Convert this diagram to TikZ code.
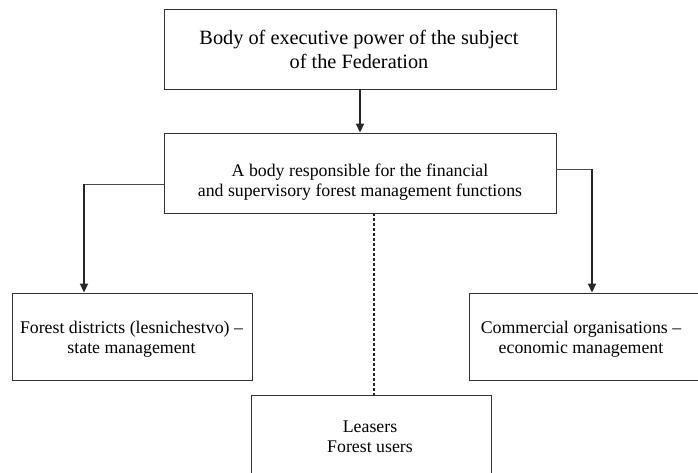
\documentclass[tikz,border=0pt]{standalone}
\usepackage{fontspec}
\setmainfont{Liberation Serif}
\usetikzlibrary{arrows.meta}
\newcommand{\twolines}[2]{\begin{tabular}[t]{@{}c@{}}#1\\#2\end{tabular}}
\begin{document}
\begin{tikzpicture}[x=1pt,y=-1pt,
  box/.style={draw=black!80, line width=0.9pt, rectangle, inner sep=0pt},
  label text/.style={anchor=base, inner sep=0pt,
    font=\fontsize{17.8}{20}\selectfont},
  title text/.style={anchor=base, inner sep=0pt,
    font=\fontsize{20.3}{24}\selectfont},
  link/.style={draw=black!70, line width=0.9pt},
  flow/.style={draw=black!85, line width=1.8pt,
    -{Triangle[length=9pt,width=8pt]}},
  lease/.style={draw=black!85, line width=1.5pt, dash pattern=on 3pt off 2pt}]
\useasboundingbox (0,0) rectangle (698,473);
\begin{scope}
\clip (0,0) rectangle (698,473);
% frames
\node[box, minimum width=392pt, minimum height=80pt] (exec) at (360,49) {};
\node[box, minimum width=392pt, minimum height=80pt] (fin) at (360,173) {};
\node[box, minimum width=240pt, minimum height=87pt] (dist) at (132,336.5) {};
\node[box, minimum width=240pt, minimum height=87pt] (comm) at (589,336.5) {};
\node[box, minimum width=240pt, minimum height=87pt] (users) at (371,438.5) {};
% texts
\node[title text] (exectext) at (359,45)
  {\twolines{Body of executive power of the subject}{of the Federation}};
\node[label text] (fintext) at (360,177)
  {\twolines{A body responsible for the financial}{and supervisory forest management functions}};
\node[label text] (disttext) at (131.5,333)
  {\twolines{Forest districts (lesnichestvo) --}{state management}};
\node[label text] (commtext) at (581,333)
  {\twolines{Commercial organisations --}{economic management}};
\node[label text] (userstext) at (370,432)
  {\twolines{Leasers}{Forest users}};
% connectors
\coordinate (lk) at (84,184);
\coordinate (rk) at (592,169);
\draw[flow] (exec.south) -- (fin.north);
\draw[link] (fin.west |- lk) -- (lk);
\draw[flow] (lk) -- (lk |- dist.north);
\draw[link] (fin.east |- rk) -- (rk);
\draw[flow] (rk) -- (rk |- comm.north);
\draw[lease] (fin.south -| 374,0) -- (users.north -| 374,0);
\end{scope}
\end{tikzpicture}
\end{document}
